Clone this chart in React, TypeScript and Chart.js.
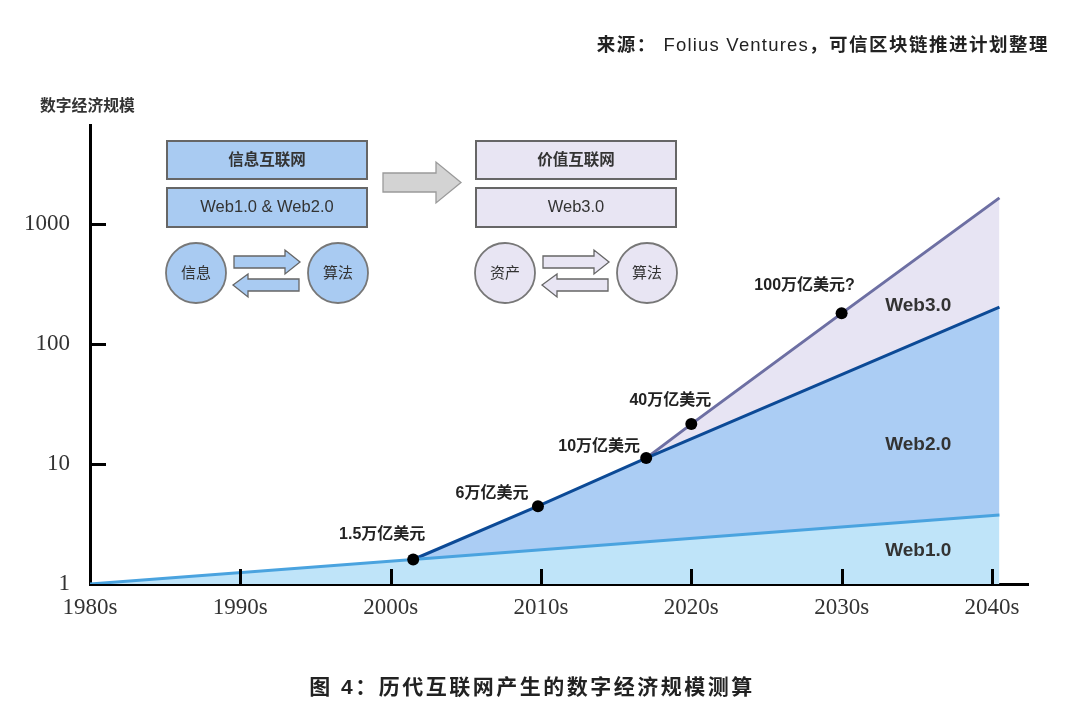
import React, { useEffect, useRef } from 'react';
import { Chart, registerables } from 'chart.js';

Chart.register(...registerables);

// ---------- data ----------
const xTickYears = [1980, 1990, 2000, 2010, 2020, 2030, 2040];
const xTickLabels = ['1980s', '1990s', '2000s', '2010s', '2020s', '2030s', '2040s'];
const yTickValues = [1, 10, 100, 1000];
const yTickLabels = ['1', '10', '100', '1000'];

const web1Years = [1980, 2040.5];
const web1Values = [1, 3.76];
const web2Years = [2001.5, 2009.8, 2017, 2040.5];
const web2Values = [1.6, 4.45, 11.2, 203];
const web3Years = [2017, 2020, 2030, 2040.5];
const web3Values = [11.2, 21.5, 180, 1650];

const milestoneYears = [2001.5, 2009.8, 2017, 2020, 2030];
const milestoneValues = [1.6, 4.45, 11.2, 21.5, 180];
const milestoneLabels = ['1.5万亿美元', '6万亿美元', '10万亿美元', '40万亿美元', '100万亿美元?'];

const areaNames = ['Web3.0', 'Web2.0', 'Web1.0'];
const areaLabelYears = [2035.1, 2035.1, 2035.1];
const areaLabelValues = [207, 14.4, 1.88];

// label offsets (style only, in px relative to the marker)
const milestoneLabelOffsets = [[-31, -25], [-46, -13], [-47, -11], [-21, -24], [-37, -28]];

const SANS = '"Liberation Sans", "Noto Sans CJK SC", sans-serif';
const SERIF = '"Liberation Serif", "DejaVu Serif", serif';

const toXY = (xs: number[], ys: number[]) => xs.map((x, i) => ({ x, y: ys[i] }));

const annotPlugin = {
  id: 'annot',
  afterDatasetsDraw(chart: any) {
    const { ctx, scales } = chart;
    const xs = scales.x;
    const ys = scales.y;
    ctx.save();
    // inward tick marks
    ctx.strokeStyle = '#000';
    ctx.lineWidth = 3;
    const bottom = chart.chartArea.bottom;
    const left = chart.chartArea.left;
    xTickYears.forEach((v, i) => {
      if (i === 0) return;
      const px = Math.round(xs.getPixelForValue(v)) + 0.5;
      ctx.beginPath();
      ctx.moveTo(px, bottom);
      ctx.lineTo(px, bottom - 15);
      ctx.stroke();
    });
    yTickValues.forEach((v, i) => {
      if (i === 0) return;
      const py = Math.round(ys.getPixelForValue(v)) + 0.5;
      ctx.beginPath();
      ctx.moveTo(left, py);
      ctx.lineTo(left + 16, py);
      ctx.stroke();
    });
    // milestone labels
    ctx.fillStyle = '#222';
    ctx.font = `bold 16px ${SANS}`;
    ctx.textAlign = 'center';
    ctx.textBaseline = 'middle';
    milestoneLabels.forEach((t, i) => {
      const px = xs.getPixelForValue(milestoneYears[i]);
      const py = ys.getPixelForValue(milestoneValues[i]);
      ctx.fillText(t, px + milestoneLabelOffsets[i][0], py + milestoneLabelOffsets[i][1]);
    });
    // area labels
    ctx.fillStyle = '#333';
    ctx.font = `bold 19px ${SANS}`;
    areaNames.forEach((t, i) => {
      ctx.fillText(t, xs.getPixelForValue(areaLabelYears[i]), ys.getPixelForValue(areaLabelValues[i]));
    });
    ctx.restore();
  },
};

function Diagram() {
  const blue = '#a9cbf2';
  const purple = '#e8e5f3';
  const stroke = '#666';
  const txt = '#333';
  const panel = (dx: number, fill: string, title: string, sub: string, c1: string, c2: string) => (
    <g transform={`translate(${dx},0)`}>
      <rect x={167} y={141} width={200} height={38} fill={fill} stroke={stroke} strokeWidth={2} />
      <text x={267} y={161} textAnchor="middle" dominantBaseline="middle" fontSize={15.5} fontWeight="bold" fill={txt} fontFamily={SANS}>{title}</text>
      <rect x={167} y={188} width={200} height={39} fill={fill} stroke={stroke} strokeWidth={2} />
      <text x={267} y={208} textAnchor="middle" dominantBaseline="middle" fontSize={16.5} fill={txt} fontFamily={SANS}>{sub}</text>
      <circle cx={196} cy={273} r={30} fill={fill} stroke="#777" strokeWidth={1.8} />
      <text x={196} y={274} textAnchor="middle" dominantBaseline="middle" fontSize={15} fill={txt} fontFamily={SANS}>{c1}</text>
      <circle cx={338} cy={273} r={30} fill={fill} stroke="#777" strokeWidth={1.8} />
      <text x={338} y={274} textAnchor="middle" dominantBaseline="middle" fontSize={15} fill={txt} fontFamily={SANS}>{c2}</text>
      <polygon points="234,256 285,256 285,250 300,262 285,274 285,268 234,268" fill={fill} stroke={stroke} strokeWidth={1.3} />
      <polygon points="299,279 248,279 248,274 233,285 248,297 248,291 299,291" fill={fill} stroke={stroke} strokeWidth={1.3} />
    </g>
  );
  return (
    <svg width={1080} height={715} style={{ position: 'absolute', left: 0, top: 0, pointerEvents: 'none' }}>
      {panel(0, blue, '信息互联网', 'Web1.0 & Web2.0', '信息', '算法')}
      {panel(309, purple, '价值互联网', 'Web3.0', '资产', '算法')}
      <polygon points="383,173 436,173 436,162 461,182.5 436,203 436,192 383,192" fill="#d3d3d3" stroke="#9a9a9a" strokeWidth={1.3} />
    </svg>
  );
}

export default function App() {
  const canvasRef = useRef<HTMLCanvasElement | null>(null);

  useEffect(() => {
    if (!canvasRef.current) return;
    const chart = new Chart(canvasRef.current, {
      type: 'line',
      data: {
        datasets: [
          {
            type: 'scatter',
            label: 'milestones',
            data: toXY(milestoneYears, milestoneValues),
            pointRadius: 6,
            pointBackgroundColor: '#000',
            pointBorderWidth: 0,
            showLine: false,
          } as any,
          {
            label: 'Web1.0',
            data: toXY(web1Years, web1Values),
            borderColor: '#4aa3df',
            borderWidth: 3,
            backgroundColor: '#bfe4f9',
            fill: 'start',
            pointRadius: 0,
            tension: 0,
          },
          {
            label: 'Web2.0',
            data: toXY(web2Years, web2Values),
            borderColor: '#0c4a96',
            borderWidth: 3,
            backgroundColor: '#abcdf4',
            fill: '-1',
            pointRadius: 0,
            tension: 0,
          },
          {
            label: 'Web3.0',
            data: toXY(web3Years, web3Values),
            borderColor: '#6d6fa3',
            borderWidth: 3,
            backgroundColor: '#e7e4f3',
            fill: '-1',
            pointRadius: 0,
            tension: 0,
          },
        ],
      },
      options: {
        animation: false,
        responsive: true,
        maintainAspectRatio: false,
        layout: { padding: { left: 0, top: 125, right: 52, bottom: 0 } },
        plugins: { legend: { display: false }, tooltip: { enabled: false } },
        scales: {
          x: {
            type: 'linear',
            min: 1980,
            max: 2042.4,
            grid: { display: false },
            border: { display: true, width: 3, color: '#000' },
            afterBuildTicks: (s: any) => {
              s.ticks = xTickYears.map((v) => ({ value: v }));
            },
            afterFit: (s: any) => {
              s.height = 131;
            },
            ticks: {
              autoSkip: false,
              maxRotation: 0,
              padding: 2,
              color: '#333',
              font: { family: SERIF, size: 23 },
              callback: (v: any) => {
                const i = xTickYears.indexOf(Number(v));
                return i >= 0 ? xTickLabels[i] : '';
              },
            },
          },
          y: {
            type: 'logarithmic',
            min: 1,
            max: 6680,
            grid: { display: false },
            border: { display: true, width: 3, color: '#000' },
            afterBuildTicks: (s: any) => {
              s.ticks = yTickValues.map((v) => ({ value: v }));
            },
            afterFit: (s: any) => {
              s.width = 90;
            },
            ticks: {
              padding: 12,
              color: '#333',
              font: { family: SERIF, size: 23 },
              callback: (v: any) => {
                const i = yTickValues.indexOf(Number(v));
                return i >= 0 ? yTickLabels[i] : '';
              },
            },
          },
        },
      },
      plugins: [annotPlugin],
    });
    return () => chart.destroy();
  }, []);

  return (
    <div style={{ position: 'absolute', left: 0, top: 0, width: 1080, height: 715, background: '#fff', overflow: 'hidden' }}>
      <div style={{ position: 'absolute', left: 0, top: 0, width: 1080, height: 715 }}>
        <canvas ref={canvasRef} />
      </div>
      <Diagram />
      <div style={{ position: 'absolute', right: 31, top: 45, transform: 'translateY(-50%)', fontFamily: SANS, fontWeight: 'bold', fontSize: 18.5, letterSpacing: 1.5, color: '#222', whiteSpace: 'nowrap', lineHeight: 1 }}>
        来源： <span style={{ fontWeight: 500, letterSpacing: 1.2 }}>Folius Ventures</span>，可信区块链推进计划整理
      </div>
      <div style={{ position: 'absolute', left: 40, top: 106, transform: 'translateY(-50%)', fontFamily: SANS, fontWeight: 'bold', fontSize: 15.8, color: '#333', whiteSpace: 'nowrap', lineHeight: 1 }}>
        数字经济规模
      </div>
      <div style={{ position: 'absolute', left: 0, width: 1064, top: 686, transform: 'translateY(-50%)', textAlign: 'center', fontFamily: SANS, fontWeight: 'bold', fontSize: 21, letterSpacing: 2.5, color: '#222', whiteSpace: 'nowrap', lineHeight: 1 }}>
        图 4：历代互联网产生的数字经济规模测算
      </div>
    </div>
  );
}
